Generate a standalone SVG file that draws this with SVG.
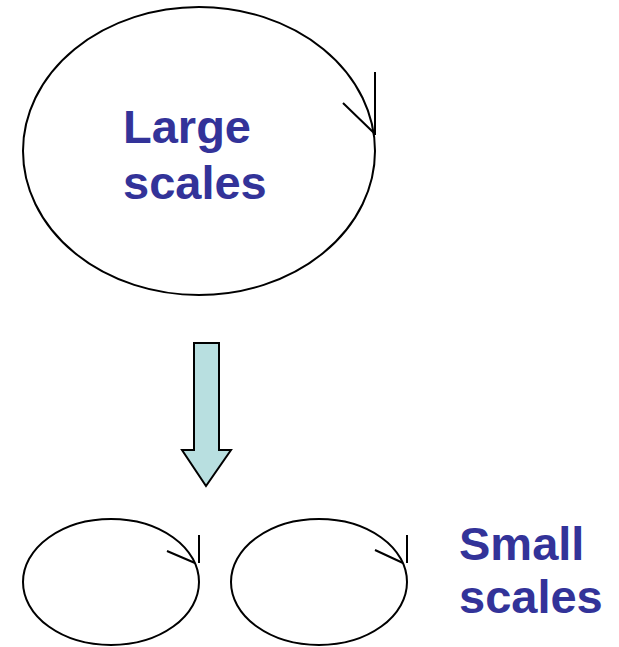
<svg xmlns="http://www.w3.org/2000/svg" width="619" height="647" viewBox="0 0 619 647">
  <style>
    .loop { fill: none; stroke: #000; stroke-width: 2; }
    .tick { fill: none; stroke: #000; stroke-width: 2; stroke-linecap: butt; }
    .label { font-family: "Liberation Sans", Arial, sans-serif; font-weight: bold; font-size: 47px; fill: #333399; }
    .flow { fill: #b8dfe0; stroke: #000; stroke-width: 2; stroke-linejoin: miter; }
  </style>
  <rect width="619" height="647" fill="#fff"/>

  <!-- large eddy -->
  <g id="large-eddy">
    <ellipse class="loop" cx="199" cy="151" rx="176" ry="144"/>
    <path class="tick" d="M375 72 V135 M343 103 L374 133"/>
    <text class="label" x="123" y="143">Large</text>
    <text class="label" x="123" y="199">scales</text>
  </g>

  <!-- cascade arrow -->
  <g id="connectors">
    <path class="flow" d="M194 343 H219 V450 H231 L206 486 L182 450 H194 Z"/>
  </g>

  <!-- small eddies -->
  <g id="small-eddy-left">
    <ellipse class="loop" cx="111" cy="582" rx="88" ry="63"/>
    <path class="tick" d="M199 535 V563 M167 551 L195 563"/>
  </g>
  <g id="small-eddy-right">
    <ellipse class="loop" cx="319" cy="582" rx="88" ry="63"/>
    <path class="tick" d="M407 535 V563 M375 550 L403 563"/>
  </g>
  <g id="small-label">
    <text class="label" x="459" y="560">Small</text>
    <text class="label" x="459" y="613">scales</text>
  </g>
</svg>
